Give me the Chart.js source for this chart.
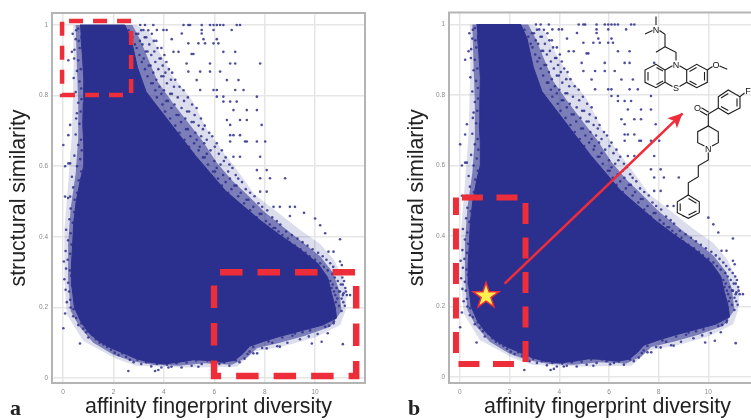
<!DOCTYPE html>
<html>
<head>
<meta charset="utf-8">
<script src="https://cdn.jsdelivr.net/npm/chart.js@4"></script>
<style>
html, body { margin: 0; padding: 0; width: 751px; height: 420px; overflow: hidden; background: #fff; }
canvas { position: absolute; top: 0; }
#panelA { left: 0; }
#panelB { left: 395px; }
.tag { position: absolute; top: 395px; font: bold 22px "Liberation Serif", serif; color: #222; }
svg { position: absolute; left: 0; top: 0; }
svg line, svg polyline, svg polygon { stroke: #1c1c1c; stroke-width: 1.1; fill: none; }
svg text { font: 9px "Liberation Sans", sans-serif; fill: #111; text-anchor: middle; }
</style>
</head>
<body>
<canvas id="panelA" width="395" height="420"></canvas>
<canvas id="panelB" width="375" height="420"></canvas>
<span class="tag" style="left:10px">a</span>
<span class="tag" style="left:408px">b</span>

<svg width="751" height="420">
  <g>
    <line x1="656" y1="16.5" x2="656" y2="25"/><line x1="645" y1="34" x2="652.5" y2="30.5"/>
    <polyline points="659.5,30.5 665,34.3 665,46.7 656,52.3"/>
    <polyline points="665,46.7 676,52.3 676,60.5"/>
    <polygon points="665,70 665,82.3 656,87.7 645,82.3 645,70 656,64.3"/>
    <line x1="648" y1="72" x2="648" y2="80.5"/><line x1="656.5" y1="84.5" x2="663" y2="81"/><line x1="656.5" y1="67.5" x2="663" y2="71"/>
    <polyline points="665,70 672.5,65.8"/><polyline points="679.5,65.8 686.7,70"/>
    <polyline points="665,82.3 672.5,86.5"/><polyline points="679.5,86.5 686.7,82.3"/>
    <polygon points="686.7,70 686.7,82.3 696.7,87.7 707.3,82.3 707.3,70 696.7,64.3"/>
    <line x1="689.5" y1="71.5" x2="696.5" y2="67.5"/><line x1="704.5" y1="72" x2="704.5" y2="80.5"/><line x1="689.5" y1="81" x2="696.5" y2="84.8"/>
    <polyline points="707.3,70 712.5,66.5"/><polyline points="719.5,66 727.3,69.3"/>
    <text x="656" y="32.5">N</text><text x="676" y="67.5">N</text><text x="676" y="91">S</text><text x="716" y="67.5">O</text>
  </g>
  <g>
    <polygon points="688.3,195 699.3,201.7 699.3,212.7 688.3,218.3 677.3,212.7 677.3,201.7" style="fill:#fff"/>
    <line x1="688.5" y1="198.5" x2="696.5" y2="203.3"/><line x1="696.5" y1="211" x2="688.5" y2="215"/><line x1="680.2" y1="203.5" x2="680.2" y2="211"/>
    <polyline points="688.3,195 688.3,182.7 698.3,176.7 698.3,165.7 708.3,160 708.3,152.5"/>
    <polyline points="704.5,146 697.7,142.7 697.7,131.7 708.3,126 718.3,131.7 718.3,142.7 712,146"/>
    <polyline points="708.3,126 708.3,114 718.3,108"/>
    <line x1="708.8" y1="112.2" x2="701.5" y2="107.8"/><line x1="707.2" y1="115.2" x2="700" y2="111"/>
    <polygon points="718.3,96.7 728.3,90 740,96.7 740,108 728.3,114 718.3,108"/>
    <line x1="721" y1="98" x2="728.3" y2="93.5"/><line x1="737" y1="98.5" x2="737" y2="106.5"/><line x1="721" y1="106.5" x2="728.3" y2="110.5"/>
    <line x1="740" y1="96.7" x2="744.5" y2="93"/>
    <text x="708.3" y="151.5">N</text><text x="697.5" y="110.5">O</text><text x="748" y="93.5">F</text>
  </g>
</svg>

<script>
const xTickValues = [0, 2, 4, 6, 8, 10];
const yTickValues = [0, 0.2, 0.4, 0.6, 0.8, 1];
const xAxisLabel = 'affinity fingerprint diversity';
const yAxisLabel = 'structural similarity';

// solid part of the cloud
const cloudCore = [
    [0.67, 1], [2.45, 1], [2.7, 0.96], [2.95, 0.88], [3.3, 0.81], [3.95, 0.75], [4.6, 0.69], [5.25, 0.63], [5.85, 0.58], [6.45, 0.53],
    [7.1, 0.49], [7.85, 0.445], [8.6, 0.405], [9.4, 0.365], [10.1, 0.325], [10.5, 0.285], [10.65, 0.24], [10.8, 0.2], [10.85, 0.17], [10.3, 0.15],
    [9.5, 0.135], [8.6, 0.118], [8, 0.105], [7.4, 0.09], [7.15, 0.07], [6.8, 0.05], [6.3, 0.045], [5.7, 0.05], [5.2, 0.052], [4.6, 0.045],
    [4, 0.04], [3.4, 0.045], [2.9, 0.055], [2.4, 0.07], [1.9, 0.085], [1.4, 0.105], [1.0, 0.13], [0.7, 0.16], [0.45, 0.2], [0.35, 0.26],
    [0.33, 0.32], [0.38, 0.38], [0.42, 0.44], [0.52, 0.5], [0.68, 0.56], [0.82, 0.6], [0.82, 0.66], [0.78, 0.72], [0.8, 0.78], [0.82, 0.85],
    [0.76, 0.92], [0.7, 0.97]
];
// thinner bands around it
const cloudMid = [
    [0.5, 1], [2.75, 1], [3.05, 0.96], [3.4, 0.9], [3.75, 0.84], [4.35, 0.78], [5.0, 0.72], [5.55, 0.67], [6.1, 0.61], [6.7, 0.56], [7.3, 0.52],
    [8.0, 0.47], [8.7, 0.43], [9.5, 0.385], [10.2, 0.345], [10.7, 0.3], [10.95, 0.25], [11.05, 0.19], [10.6, 0.145], [9.6, 0.12], [8.6, 0.1],
    [7.7, 0.085], [7.3, 0.058], [6.7, 0.038], [5.6, 0.042], [4.6, 0.035], [3.6, 0.037], [2.7, 0.048], [2, 0.066], [1.2, 0.1], [0.65, 0.145],
    [0.3, 0.19], [0.2, 0.28], [0.2, 0.38], [0.3, 0.48], [0.5, 0.58], [0.6, 0.68], [0.6, 0.78], [0.55, 0.88]
];
const cloudFringe = [
    [0.4, 1], [2.9, 1], [3.4, 0.98], [3.85, 0.92], [4.4, 0.85], [5.1, 0.79], [5.75, 0.7], [6.35, 0.64], [6.9, 0.59], [7.6, 0.52],
    [8.5, 0.47], [9.4, 0.42], [10.2, 0.38], [10.75, 0.335], [11.05, 0.29], [11.25, 0.24], [11.2, 0.19], [11.0, 0.15],
    [10, 0.115], [8.75, 0.09], [7.6, 0.075], [6.9, 0.032], [4.9, 0.03], [2.9, 0.035], [2.1, 0.055], [0.8, 0.105],
    [0.15, 0.18], [0.05, 0.28], [0.05, 0.42], [0.2, 0.55], [0.35, 0.69], [0.42, 0.88]
];
const strayPoints = [
    [3.06, 1], [3.25, 1], [3.58, 1], [4.78, 1], [4.97, 1], [5.04, 1], [5.5, 1], [5.83, 1], [5.97, 1], [6.1, 1], [6.23, 1], [6.36, 1], [6.89, 1], [7.02, 1],
    [3.19, 0.986], [3.72, 0.986], [3.98, 0.986], [4.11, 0.986], [5.5, 0.986], [5.97, 0.986], [6.69, 0.986],
    [4.71, 0.976], [5.5, 0.976], [4.31, 0.96], [5.57, 0.96], [6.1, 0.96], [4.97, 0.948], [5.37, 0.948], [5.63, 0.948], [5.97, 0.948], [6.16, 0.948],
    [4.38, 0.924], [4.58, 0.924], [6.36, 0.924], [6.83, 0.924], [5.1, 0.918], [5.17, 0.918], [5.83, 0.891], [6.63, 0.891], [6.83, 0.891], [7.82, 0.891], [4.9, 0.891],
    [4.97, 0.868], [5.44, 0.868], [5.83, 0.868], [6.23, 0.868], [6.5, 0.844], [6.96, 0.844], [5.3, 0.844], [5.97, 0.816], [6.1, 0.816], [6.83, 0.816], [7.16, 0.816], [5.44, 0.816],
    [7.69, 0.797], [6.1, 0.797], [6.36, 0.797], [6.36, 0.783], [6.89, 0.783], [6.63, 0.783], [7.29, 0.759], [7.69, 0.759], [6.76, 0.759], [7.02, 0.731], [7.29, 0.731], [6.5, 0.731],
    [7.88, 0.717], [6.63, 0.717], [6.76, 0.688], [6.63, 0.688], [7.02, 0.688], [7.22, 0.67], [7.29, 0.67], [7.69, 0.67], [8.02, 0.67], [6.63, 0.67], [7.82, 0.627], [6.76, 0.627], [7.02, 0.627],
    [7.69, 0.589], [8.08, 0.589], [8.81, 0.566], [7.82, 0.566], [8.21, 0.566], [8.08, 0.528], [7.82, 0.528], [8.35, 0.485], [8.6, 0.485], [9.0, 0.485], [9.2, 0.485],
    [0.01, 0.66], [0.21, 0.688], [0.28, 0.717], [0.21, 0.608], [0.28, 0.608], [0.08, 0.6], [0.08, 0.514], [0.28, 0.514], [0.21, 0.9], [0.35, 0.924],
    [2.59, 0.02], [3.65, 0.02], [3.78, 0.023], [4.18, 0.03], [5.37, 0.032], [10.99, 0.393], [10.4, 0.41], [10.2, 0.433], [10, 0.452], [9.56, 0.468], [9.0, 0.459],
    [10.99, 0.33], [11.06, 0.32], [10.73, 0.358], [10.53, 0.358], [11.39, 0.235], [11.26, 0.235], [11.13, 0.24], [10.99, 0.245], [9.87, 0.098], [10.26, 0.103], [10.5, 0.127], [11.1, 0.096],
    [10.73, 0.155], [8.6, 0.089], [8.08, 0.084], [7.55, 0.07], [0.01, 0.141], [0.08, 0.183], [0.67, 0.098]
];
// speckle of the upper right edge, row by row: similarity, then diversities
const edgeRows = [
    [0.985, [2.6, 3.1, 3.38]], [0.975, [2.9, 2.98, 3.52]], [0.965, [2.75, 3.24, 3.3]], [0.955, [3.05, 3.6, 3.7]], [0.945, [2.85, 3.15, 3.42]], [0.935, [2.92, 3.75, 3.9]],
    [0.925, [3.28, 3.35, 3.62]], [0.915, [3.03, 3.5, 4.02]], [0.905, [3.2, 3.83, 3.88]], [0.895, [3.12, 3.66, 4.1]], [0.885, [3.4, 3.47, 3.95]], [0.875, [3.25, 3.78, 4.2]],
    [0.865, [3.58, 4.06, 4.33]], [0.855, [3.35, 3.9, 3.98]], [0.845, [3.7, 4.28, 4.45]], [0.835, [3.5, 3.56, 4.12]], [0.825, [3.82, 4.4, 4.62]], [0.815, [3.66, 4.0, 4.78]],
    [0.805, [3.9, 4.25, 4.32]], [0.795, [3.72, 4.55, 4.95]], [0.785, [4.1, 4.16, 4.8]], [0.775, [3.94, 4.42, 5.12]], [0.765, [4.3, 4.7, 5.3]], [0.755, [4.05, 4.92, 5.0]],
    [0.745, [4.5, 4.58, 5.22]], [0.735, [4.25, 4.85, 5.47]], [0.725, [4.68, 5.1, 5.18]], [0.715, [4.45, 5.38, 5.62]], [0.705, [4.88, 4.95, 5.55]], [0.695, [4.62, 5.25, 5.8]],
    [0.685, [5.05, 5.48, 5.92]], [0.675, [4.82, 5.3, 5.7]], [0.665, [5.2, 5.6, 6.1]], [0.655, [5.0, 5.42, 6.02]], [0.645, [5.38, 5.85, 6.3]], [0.635, [5.15, 5.7, 6.18]],
    [0.625, [5.55, 5.62, 6.45]], [0.615, [5.32, 6.0, 6.38]], [0.605, [5.75, 6.25, 6.6]], [0.595, [5.5, 6.1, 6.72]], [0.585, [5.95, 6.03, 6.55]], [0.575, [5.7, 6.35, 6.85]],
    [0.565, [6.15, 6.62, 6.95]], [0.555, [5.9, 6.45, 7.1]], [0.545, [6.3, 6.8, 6.88]], [0.535, [6.1, 6.68, 7.25]], [0.525, [6.55, 7.05, 7.42]], [0.515, [6.4, 6.95, 7.6]],
    [0.505, [6.75, 7.28, 7.35]], [0.495, [6.6, 7.18, 7.75]], [0.485, [7.0, 7.55, 7.9]], [0.475, [6.85, 7.42, 8.1]], [0.465, [7.3, 7.8, 7.87]], [0.455, [7.15, 7.68, 8.3]],
    [0.445, [7.6, 8.05, 8.48]], [0.435, [7.45, 8.2, 8.62]], [0.425, [7.95, 8.35, 8.42]], [0.415, [7.8, 8.55, 8.85]], [0.405, [8.25, 8.7, 9.08]], [0.395, [8.1, 8.92, 9.3]],
    [0.385, [8.6, 8.98, 9.5]], [0.375, [8.45, 9.2, 9.7]], [0.365, [8.95, 9.42, 9.9]], [0.355, [8.8, 9.62, 10.12]], [0.345, [9.3, 9.78, 10.3]], [0.335, [9.15, 10.0, 10.45]],
    [0.325, [9.65, 10.2, 10.6]], [0.315, [9.55, 10.35, 10.72]], [0.305, [10.05, 10.5, 10.85]], [0.295, [10.25, 10.68, 10.98]], [0.285, [10.4, 10.78, 11.08]], [0.275, [10.6, 10.9, 11.15]],
    [0.265, [10.7, 11.02, 11.1]], [0.255, [10.65, 10.85, 11.2]], [0.245, [10.75, 10.95, 11.22]], [0.235, [10.8, 11.1]], [0.225, [10.88, 11.05]], [0.215, [10.82, 11.12]], [0.205, [10.95, 11.18]], [0.19, [11.05]]
];
const fringePoints = [
    [10.4, 0.145], [10.75, 0.16], [10.55, 0.148], [9.8, 0.135], [10.1, 0.125], [9.5, 0.13], [9.75, 0.118], [9.1, 0.12], [9.4, 0.11], [8.7, 0.115], [8.9, 0.1], [9.2, 0.126], [8.3, 0.1], [8.5, 0.09], [7.9, 0.085], [8.15, 0.104], [7.7, 0.07], [7.4, 0.075], [7.55, 0.088], [7.2, 0.055], [7.32, 0.068],
    [7.0, 0.045], [6.85, 0.05], [6.6, 0.035], [6.4, 0.044], [6.2, 0.04], [5.9, 0.045], [6.05, 0.036], [5.5, 0.04], [5.72, 0.05], [5.1, 0.035], [5.28, 0.05], [4.7, 0.03], [4.9, 0.044], [4.3, 0.032], [4.5, 0.042], [3.9, 0.03], [4.12, 0.038], [3.5, 0.033], [3.72, 0.04], [3.1, 0.04], [3.3, 0.045], [2.8, 0.045], [2.95, 0.052], [2.5, 0.06], [2.65, 0.052], [2.2, 0.065], [2.35, 0.07],
    [1.9, 0.08], [2.05, 0.072], [1.6, 0.095], [1.75, 0.088], [1.3, 0.11], [1.45, 0.1], [1.0, 0.115], [1.15, 0.122], [0.8, 0.14], [0.92, 0.13], [0.6, 0.15], [0.72, 0.155], [0.4, 0.175], [0.52, 0.17], [0.3, 0.2], [0.42, 0.195], [0.15, 0.215], [0.28, 0.222], [0.1, 0.25], [0.24, 0.245], [0.05, 0.28], [0.2, 0.27], [0.32, 0.29], [0.12, 0.31], [0.27, 0.305], [0.03, 0.33], [0.18, 0.335], [0.1, 0.36], [0.28, 0.352],
    [0.2, 0.39], [0.33, 0.378], [0.12, 0.42], [0.3, 0.41], [0.25, 0.45], [0.38, 0.44], [0.3, 0.48], [0.44, 0.47], [0.2, 0.51], [0.46, 0.505], [0.4, 0.54], [0.56, 0.525], [0.35, 0.57], [0.62, 0.56], [0.55, 0.6], [0.72, 0.585], [0.45, 0.63], [0.68, 0.62], [0.6, 0.66], [0.74, 0.645], [0.5, 0.69], [0.71, 0.675], [0.65, 0.72], [0.52, 0.735], [0.55, 0.75], [0.7, 0.755], [0.6, 0.78], [0.73, 0.79],
    [0.5, 0.81], [0.72, 0.82], [0.65, 0.84], [0.42, 0.85], [0.55, 0.87], [0.7, 0.875], [0.6, 0.9], [0.44, 0.905], [0.45, 0.93], [0.66, 0.935], [0.5, 0.96], [0.62, 0.955], [0.38, 0.975], [0.6, 0.99], [0.52, 0.985]
];

// red boxes and the arrow, in data units
const boxTopLeft = [[-0.04, 1.011], [2.7, 1.011], [2.7, 0.802], [-0.04, 0.802], [-0.04, 1.011]];
const boxBottomRight = [[5.99, 0.3], [11.63, 0.3], [11.63, 0.006], [5.99, 0.006], [5.99, 0.3]];
const boxLeft = [[-0.16, 0.509], [2.64, 0.509], [2.64, 0.037], [-0.16, 0.037], [-0.16, 0.509]];
const arrowLine = [[1.8, 0.265], [8.96, 0.748]];
const starPoint = [1.05, 0.23];

const blue = '#2b2f8e';
const red = '#ee2d3a';

const toXY = rows => rows.map(r => ({ x: r[0], y: r[1] }));
const edgePoints = edgeRows.flatMap(row => row[1].map(x => [x, row[0]]));

function boxDataset(rows, width, on, off, offset) {
    return {
        data: toXY(rows), showLine: true, fill: false, pointRadius: 0, borderColor: red,
        borderWidth: width, borderDash: [on, off], borderDashOffset: offset, tension: 0, order: 1
    };
}

const framePlugin = {
    id: 'frame',
    beforeDatasetsDraw(chart) {
        const a = chart.chartArea;
        const ctx = chart.ctx;
        ctx.save();
        ctx.strokeStyle = '#b4b4b4';
        ctx.lineWidth = 2;
        ctx.strokeRect(a.left, a.top, a.right - a.left, a.bottom - a.top);
        ctx.restore();
    }
};

// arrow head and star for panel b
const markerPlugin = {
    id: 'marker',
    afterDatasetsDraw(chart) {
        const sx = chart.scales.x;
        const sy = chart.scales.y;
        const ctx = chart.ctx;
        const x0 = sx.getPixelForValue(arrowLine[0][0]);
        const y0 = sy.getPixelForValue(arrowLine[0][1]);
        const x1 = sx.getPixelForValue(arrowLine[1][0]);
        const y1 = sy.getPixelForValue(arrowLine[1][1]);
        const ang = Math.atan2(y1 - y0, x1 - x0);
        ctx.save();
        ctx.fillStyle = red;
        ctx.beginPath();
        ctx.moveTo(x1, y1);
        ctx.lineTo(x1 - 16 * Math.cos(ang - 0.45), y1 - 16 * Math.sin(ang - 0.45));
        ctx.lineTo(x1 - 11 * Math.cos(ang), y1 - 11 * Math.sin(ang));
        ctx.lineTo(x1 - 16 * Math.cos(ang + 0.45), y1 - 16 * Math.sin(ang + 0.45));
        ctx.closePath();
        ctx.fill();

        const cx = sx.getPixelForValue(starPoint[0]);
        const cy = sy.getPixelForValue(starPoint[1]);
        ctx.beginPath();
        for (let i = 0; i < 10; i++) {
            const r = i % 2 ? 5.2 : 13.5;
            const t = -Math.PI / 2 + i * Math.PI / 5;
            ctx.lineTo(cx + r * Math.cos(t), cy + r * Math.sin(t));
        }
        ctx.closePath();
        ctx.fillStyle = '#fff04d';
        ctx.strokeStyle = '#ee2d3a';
        ctx.lineWidth = 1.5;
        ctx.fill();
        ctx.stroke();
        ctx.restore();
    }
};

function drawPanel(id, cfg) {
    const datasets = [
        { data: toXY(cloudCore), showLine: true, fill: 'shape', backgroundColor: blue, borderColor: blue, borderWidth: 1, pointRadius: 0, tension: 0, order: 4 },
        { data: toXY(cloudMid), showLine: true, fill: 'shape', backgroundColor: 'rgba(43,47,142,0.55)', borderWidth: 0, pointRadius: 0, tension: 0, order: 5 },
        { data: toXY(cloudFringe), showLine: true, fill: 'shape', backgroundColor: 'rgba(43,47,142,0.16)', borderWidth: 0, pointRadius: 0, tension: 0, order: 6 },
        { data: toXY(fringePoints.concat(edgePoints, strayPoints)), backgroundColor: 'rgba(46,48,140,0.85)', borderWidth: 0, pointRadius: 1.3, order: 3 }
    ].concat(cfg.extra);

    new Chart(document.getElementById(id), {
        type: 'scatter',
        data: { datasets },
        options: {
            responsive: false,
            animation: false,
            layout: { padding: { top: cfg.top, right: cfg.right, left: 0, bottom: 0 } },
            plugins: { legend: { display: false }, tooltip: { enabled: false } },
            scales: {
                x: {
                    min: -0.44, max: cfg.xMax,
                    afterBuildTicks: s => { s.ticks = xTickValues.map(v => ({ value: v })); },
                    afterFit: s => { s.height = 37; },
                    grid: { color: '#e6e6e6', lineWidth: 1.5, drawTicks: false },
                    border: { display: false },
                    ticks: { color: '#8a8a8a', font: { size: 6.5, family: 'Liberation Sans' }, padding: 5, maxRotation: 0, callback: v => String(v) },
                    title: { display: true, text: xAxisLabel, color: '#222', font: { size: 21.4, family: 'Liberation Sans' }, padding: { top: 0, bottom: 0 } }
                },
                y: {
                    min: cfg.yMin, max: 1.034,
                    afterBuildTicks: s => { s.ticks = yTickValues.map(v => ({ value: v })); },
                    afterFit: s => { s.width = cfg.axisWidth; },
                    grid: { color: '#e6e6e6', lineWidth: 1.5, drawTicks: false },
                    border: { display: false },
                    ticks: { color: '#8a8a8a', font: { size: 6.5, family: 'Liberation Sans' }, padding: 4, callback: v => String(v) },
                    title: { display: true, text: yAxisLabel, color: '#222', font: { size: 21.4, family: 'Liberation Sans' }, padding: { top: cfg.titleGap, bottom: 0 } }
                }
            }
        },
        plugins: cfg.plugins
    });
}

drawPanel('panelA', {
    top: 13, right: 30, xMax: 11.98, yMin: -0.014, axisWidth: 52, titleGap: 6, plugins: [framePlugin],
    extra: [boxDataset(boxTopLeft, 4.5, 14, 10, 17), boxDataset(boxBottomRight, 6.5, 22.5, 15, 31.5)]
});
drawPanel('panelB', {
    top: 12.5, right: 2, xMax: 12.32, yMin: -0.017, axisWidth: 54, titleGap: 9, plugins: [framePlugin, markerPlugin],
    extra: [
        boxDataset(boxLeft, 6, 21, 13.5, 28.5),
        { data: toXY(arrowLine), showLine: true, fill: false, pointRadius: 0, borderColor: red, borderWidth: 2.6, order: 0 }
    ]
});
</script>
</body>
</html>
